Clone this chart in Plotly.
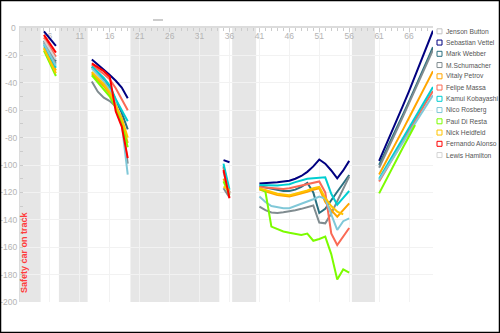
import plotly.graph_objects as go

# ---------------- data ----------------
drivers = ["Jenson Button", "Sebastian Vettel", "Mark Webber", "M.Schumacher",
           "Vitaly Petrov", "Felipe Massa", "Kamui Kobayashi", "Nico Rosberg",
           "Paul Di Resta", "Nick Heidfeld", "Fernando Alonso", "Lewis Hamilton"]
colors = ["#c4c4c4", "#000080", "#2a7080", "#808c90", "#ffa500", "#fa6a55",
          "#00ced1", "#80c8d8", "#7cfc00", "#ffc400", "#ff0000", "#d4d4d4"]

# each driver: {first lap of stint segment: values per lap}
button = {}
vettel = {5: [-2.4, -7.6, -13],
          13: [-23, -26.5, -30.5, -34.3, -38.5, -43.5, -51.3],
          35: [-96.4, -98],
          41: [-113.5, -113.3, -113, -112.5, -112, -111.5, -110, -108, -105, -101, -96, -99, -104, -109.7, -104, -97],
          61: [-97, -87, -77.5, -67, -56.5, -46, -35, -24.5, -13, -2]}
webber = {5: [-9.5, -17, -24.5],
          13: [-28.5, -33, -37.5, -43, -53, -62, -74],
          35: [-101, -120],
          41: [-115.5, -116.5, -117.5, -118.5, -119, -119, -118, -116, -113, -120, -135, -132, -125.5, -119.5, -113.5, -107.3],
          61: [-100, -91, -82, -72.5, -63, -53.5, -44, -34, -24, -14]}
schumacher = {5: [-10.5, -18.5, -26],
              13: [-39, -46.5, -50.9, -53.3, -57.4, -66, -99],
              35: [-117, -123.6],
              41: [-130.4, -133, -134.7, -135, -134.5, -134, -133, -132, -131, -129.5, -142, -142.6, -135.4, -126.4, -117.5, -108.5],
              61: [-102, -93, -83.5, -74, -64.5, -55, -45, -35, -25.5, -16]}
petrov = {5: [-14, -22.5, -31],
          13: [-33, -37.5, -42.5, -48, -57, -68, -84],
          35: [-110, -120],
          41: [-118, -119.5, -121, -122, -122.5, -123, -122, -121, -119.5, -118, -117, -127, -133, -137.7, -133, -128],
          61: [-107, -99, -91, -82.5, -74, -65.5, -57, -48.5, -40, -31.5]}
massa = {5: [-7, -14, -21],
         13: [-27, -30, -33.5, -37.5, -44, -52, -60],
         35: [-102, -121],
         41: [-116, -116.5, -117, -117.5, -117.5, -117, -116, -115, -114, -113, -112, -120, -150, -158.4, -152, -146],
         61: [-112, -104.5, -97, -89.5, -82, -74.5, -67, -60, -53, -46]}
kobayashi = {5: [-12.5, -21, -29],
             13: [-28, -32, -36.5, -42, -52, -60, -68],
             35: [-99, -118],
             41: [-114.6, -114.8, -115, -115, -114.5, -114, -112.5, -111, -110, -109.7, -109.5, -109, -121, -129, -124, -119],
             61: [-110, -102.5, -95, -87.5, -80, -72.5, -65, -57.5, -50, -43]}
rosberg = {5: [-11.5, -19.5, -27.5],
           13: [-29.5, -34, -39, -45, -55, -70, -107],
           35: [-105, -121.5],
           41: [-123, -127, -130, -131, -131.5, -131.5, -130, -128.5, -127, -125, -123, -124.5, -136, -147.4, -141, -139],
           61: [-111, -104, -97, -90, -83, -76, -69.5, -62.5, -56, -49]}
di_resta = {5: [-16.5, -26, -35],
            13: [-34.5, -39.5, -44.5, -50, -58.5, -69, -87],
            35: [-112, -122],
            41: [-117, -119.5, -145, -147, -148.5, -149.5, -150.5, -151, -150, -155.3, -154, -152.3, -165, -183.5, -176.2, -178.6],
            61: [-120.7, -112, -104, -95.5, -87, -79, -70.8]}
heidfeld = {5: [-15, -24, -33],
            13: [-32, -36.5, -41, -47, -56, -66, -80],
            35: [-115.8, -118.2],
            41: [-117, -118.5, -120, -121, -121.5, -122, -121, -120, -118.5, -117, -116, -124, -130, -134, -136]}
alonso = {5: [-5, -11.5, -18],
          13: [-25.8, -28.5, -31.5, -35.5, -61, -72, -95],
          35: [-103.6, -124.3]}
hamilton = {5: [-8.5, -16, -23]}

series = [button, vettel, webber, schumacher, petrov, massa, kobayashi,
          rosberg, di_resta, heidfeld, alonso, hamilton]

# safety car periods (lap ranges)
sc_start = [1, 7.5, 19.45, 36.45, 56.45]
sc_end = [4.45, 12.3, 34.3, 40.45, 60.3]

x_ticks = [1, 6, 11, 16, 21, 26, 31, 36, 41, 46, 51, 56, 61, 66]
y_ticks = [0, -20, -40, -60, -80, -100, -120, -140, -160, -180, -200]

# ---------------- figure ----------------
W, H = 500, 333
ML, MR, MT, MB = 20, 67, 28, 31
PW, PH = W - ML - MR, H - MT - MB
TICKFONT = dict(family="Liberation Sans, Arial", size=8.5, color="#b4b4b4")


def px(x):
    return (x - ML) / PW


def py(y):
    return (H - MB - y) / PH


fig = go.Figure()
for name, col, segs in zip(drivers, colors, series):
    xs, ys = [], []
    for start, vals in segs.items():
        xs += list(range(start, start + len(vals))) + [None]
        ys += list(vals) + [None]
    if not xs:
        continue
    fig.add_trace(go.Scatter(x=xs, y=ys, mode="lines", name=name,
                             line=dict(color=col, width=2),
                             connectgaps=False, showlegend=False))

shapes = []
for a, b in zip(sc_start, sc_end):
    shapes.append(dict(type="rect", xref="x", yref="paper", x0=a, x1=b, y0=0, y1=1,
                       fillcolor="#e6e6e6", line=dict(width=0), layer="below"))

annotations = []
for i, (name, col) in enumerate(zip(drivers, colors)):
    cy = 31.3 + i * 11.25
    shapes.append(dict(type="rect", xref="paper", yref="paper",
                       x0=px(437), x1=px(442), y0=py(cy + 2.5), y1=py(cy - 2.5),
                       line=dict(color=col, width=1), fillcolor="white"))
    annotations.append(dict(text=name, xref="paper", yref="paper", x=px(443.5), y=py(cy),
                            xanchor="left", yanchor="middle", showarrow=False,
                            font=dict(family="Liberation Sans, Arial", size=6.7, color="#555555")))

annotations.append(dict(text="<b>Safety car on track</b>", xref="paper", yref="paper",
                        x=px(24), y=py(295), textangle=-90, xanchor="center",
                        yanchor="bottom", showarrow=False,
                        font=dict(family="Liberation Sans, Arial", size=9, color="#ff3b3b")))

# top y tick label (plotly drops the label at the axis end next to the top x axis)
annotations.append(dict(text=str(y_ticks[0]), xref="paper", yref="y", x=px(17.5),
                        y=y_ticks[0], xanchor="right", yanchor="middle", showarrow=False,
                        font=TICKFONT))

# small title mark and outer border
shapes.append(dict(type="line", xref="paper", yref="paper", x0=px(153), x1=px(163),
                   y0=py(20), y1=py(20), line=dict(color="#999999", width=1)))
shapes.append(dict(type="rect", xref="paper", yref="paper", x0=px(0.5), x1=px(499.5),
                   y0=py(332.5), y1=py(0.5), line=dict(color="black", width=1.5)))

fig.update_layout(
    width=W, height=H, margin=dict(l=ML, r=MR, t=MT, b=MB, pad=0, autoexpand=False),
    paper_bgcolor="white", plot_bgcolor="white", showlegend=False,
    shapes=shapes, annotations=annotations,
    xaxis=dict(range=[1, 70], side="top", tickvals=x_ticks, automargin=False,
               ticktext=[str(v) for v in x_ticks], ticklabelposition="inside",
               ticks="inside", ticklen=4, tickcolor="#cccccc",
               showgrid=True, gridcolor="#f2f2f2", gridwidth=1,
               showline=True, linecolor="#dcdcdc", linewidth=2,
               zeroline=False, layer="below traces",
               tickfont=TICKFONT,
               minor=dict(dtick=1, tick0=1, ticks="inside", ticklen=3,
                          tickcolor="#cccccc", showgrid=False)),
    yaxis=dict(range=[-200, 0], tickvals=y_ticks, automargin=False,
               ticktext=[str(v) for v in y_ticks],
               ticks="inside", ticklen=3, tickcolor="#cccccc",
               showgrid=True, gridcolor="#f2f2f2", gridwidth=1,
               showline=True, linecolor="#dcdcdc", linewidth=1,
               zeroline=False,
               tickfont=TICKFONT,
               minor=dict(dtick=10, tick0=0, ticks="inside", ticklen=3,
                          tickcolor="#cccccc", showgrid=False)),
)

fig.write_html("out.html")
